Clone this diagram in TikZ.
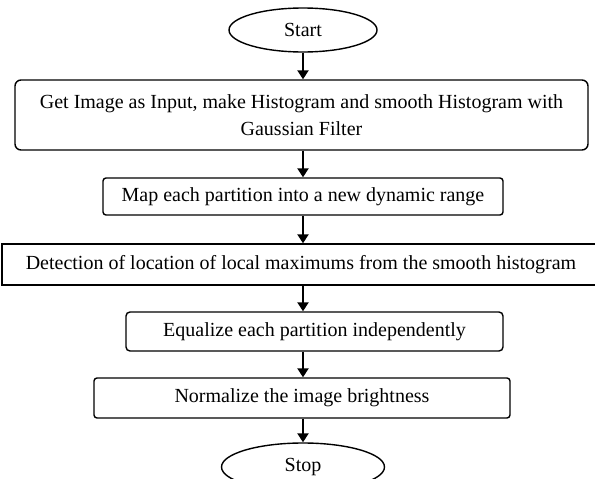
\documentclass[tikz,border=0pt]{standalone}
\usepackage{fontspec}
\setmainfont{Liberation Serif}
\usetikzlibrary{shapes.geometric,arrows.meta}
\begin{document}
\begin{tikzpicture}[x=1pt,y=-1pt,
  box/.style={draw,line width=1.4pt,inner sep=0pt,align=center,font=\fontsize{20}{27}\selectfont},
  term/.style={draw,ellipse,line width=1.4pt,inner sep=0pt,font=\fontsize{20}{24}\selectfont},
  arr/.style={line width=2.6pt,-{Triangle[length=9pt,width=11pt]}}]
\useasboundingbox (0,0) rectangle (595,479);
\node[term,minimum width=148pt,minimum height=44pt] (start) at (303,30) {Start};
\node[box,rounded corners=6pt,minimum width=573pt,minimum height=70pt] (b1) at (301.5,115)
  {Get Image as Input, make Histogram and smooth Histogram with\\Gaussian Filter};
\node[box,rounded corners=3pt,minimum width=400pt,minimum height=37pt] (b2) at (303,196.5)
  {Map each partition into a new dynamic range};
\node[box,minimum width=598pt,minimum height=41pt] (b3) at (301,264.5)
  {Detection of location of local maximums from the smooth histogram};
\node[box,rounded corners=4pt,minimum width=377pt,minimum height=39pt] (b4) at (314.5,331.5)
  {Equalize each partition independently};
\node[box,rounded corners=3pt,minimum width=416pt,minimum height=40pt] (b5) at (302,398)
  {Normalize the image brightness};
\node[term,minimum width=163pt,minimum height=48pt] (stop) at (303,467) {Stop};
\draw[arr] (start.south) -- (start.south |- b1.north);
\draw[arr] (b1.south -| start) -- (b2.north -| start);
\draw[arr] (b2.south -| start) -- (b3.north -| start);
\draw[arr] (b3.south -| start) -- (b4.north -| start);
\draw[arr] (b4.south -| start) -- (b5.north -| start);
\draw[arr] (b5.south -| start) -- (stop.north);
\end{tikzpicture}
\end{document}
